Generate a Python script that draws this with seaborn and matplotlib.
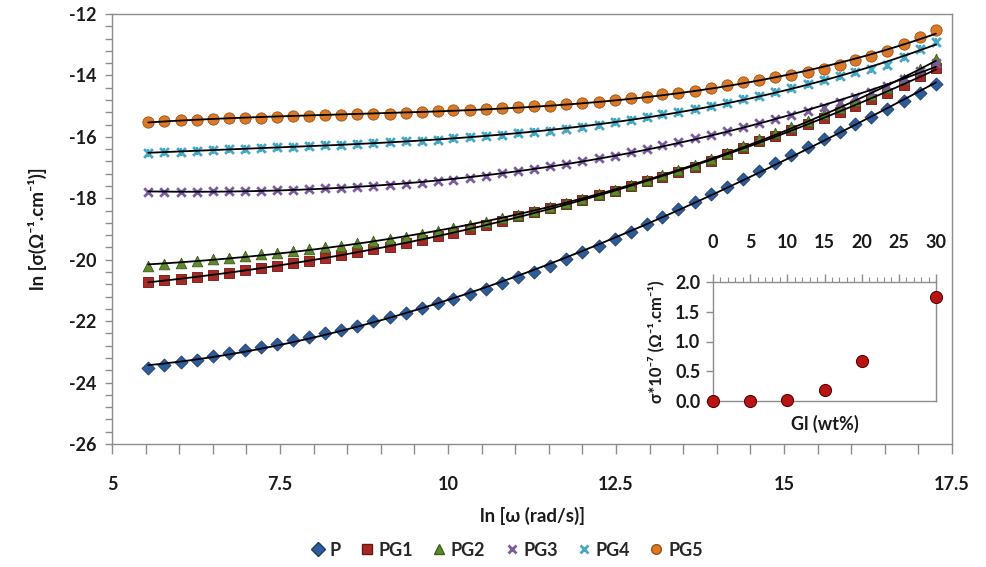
import numpy as np
import pandas as pd
import matplotlib
matplotlib.use("Agg")
import matplotlib.pyplot as plt
import seaborn as sns
from matplotlib.ticker import MultipleLocator, FixedLocator, FormatStrFormatter
from matplotlib.lines import Line2D

# ---------------- data ----------------
ln_omega = [5.54, 5.78, 6.02, 6.26, 6.50, 6.74, 6.98, 7.21, 7.45, 7.69,
            7.93, 8.17, 8.41, 8.65, 8.89, 9.13, 9.37, 9.61, 9.85, 10.08,
            10.32, 10.56, 10.80, 11.04, 11.28, 11.52, 11.76, 12.00, 12.24, 12.48,
            12.72, 12.96, 13.19, 13.43, 13.67, 13.91, 14.15, 14.39, 14.63, 14.87,
            15.11, 15.35, 15.59, 15.83, 16.06, 16.30, 16.54, 16.78, 17.02, 17.26]

P = [-23.53, -23.44, -23.34, -23.25, -23.15, -23.05, -22.95, -22.85, -22.75, -22.63,
     -22.52, -22.40, -22.28, -22.15, -22.01, -21.88, -21.74, -21.58, -21.42, -21.27,
     -21.11, -20.95, -20.76, -20.57, -20.39, -20.20, -19.98, -19.76, -19.55, -19.33,
     -19.09, -18.85, -18.60, -18.36, -18.12, -17.87, -17.62, -17.37, -17.12, -16.86,
     -16.60, -16.34, -16.08, -15.83, -15.59, -15.34, -15.10, -14.83, -14.56, -14.28]

PG1 = [-20.72, -20.67, -20.62, -20.56, -20.51, -20.43, -20.35, -20.28, -20.20, -20.11,
       -20.03, -19.94, -19.86, -19.76, -19.66, -19.57, -19.47, -19.35, -19.23, -19.12,
       -19.00, -18.88, -18.74, -18.59, -18.45, -18.31, -18.17, -18.04, -17.90, -17.77,
       -17.61, -17.45, -17.30, -17.14, -16.98, -16.77, -16.56, -16.36, -16.15, -15.96,
       -15.77, -15.57, -15.38, -15.18, -14.98, -14.78, -14.58, -14.31, -14.03, -13.75]

PG2 = [-20.20, -20.15, -20.10, -20.04, -19.99, -19.94, -19.88, -19.83, -19.77, -19.72,
       -19.66, -19.60, -19.54, -19.47, -19.40, -19.33, -19.26, -19.17, -19.08, -18.98,
       -18.88, -18.77, -18.65, -18.53, -18.40, -18.27, -18.14, -18.01, -17.87, -17.73,
       -17.57, -17.41, -17.25, -17.09, -16.92, -16.72, -16.51, -16.30, -16.08, -15.88,
       -15.68, -15.47, -15.26, -15.05, -14.84, -14.63, -14.42, -14.11, -13.79, -13.45]

PG3 = [-17.80, -17.79, -17.78, -17.78, -17.77, -17.76, -17.76, -17.75, -17.74, -17.72,
       -17.70, -17.68, -17.66, -17.63, -17.61, -17.58, -17.55, -17.50, -17.45, -17.39,
       -17.33, -17.26, -17.19, -17.11, -17.04, -16.96, -16.87, -16.79, -16.70, -16.61,
       -16.50, -16.39, -16.28, -16.17, -16.05, -15.93, -15.80, -15.68, -15.55, -15.42,
       -15.29, -15.16, -15.03, -14.86, -14.70, -14.53, -14.36, -14.11, -13.85, -13.60]

PG4 = [-16.52, -16.50, -16.48, -16.46, -16.44, -16.41, -16.39, -16.36, -16.34, -16.32,
       -16.30, -16.27, -16.25, -16.22, -16.20, -16.17, -16.15, -16.12, -16.09, -16.05,
       -16.02, -15.98, -15.94, -15.89, -15.85, -15.80, -15.73, -15.67, -15.60, -15.53,
       -15.44, -15.36, -15.27, -15.19, -15.10, -14.99, -14.89, -14.78, -14.68, -14.54,
       -14.41, -14.27, -14.14, -14.02, -13.90, -13.78, -13.66, -13.40, -13.15, -12.90]

PG5 = [-15.50, -15.48, -15.46, -15.44, -15.42, -15.40, -15.38, -15.37, -15.35, -15.33,
       -15.31, -15.30, -15.28, -15.27, -15.25, -15.24, -15.22, -15.20, -15.17, -15.14,
       -15.12, -15.09, -15.06, -15.04, -15.01, -14.99, -14.94, -14.90, -14.85, -14.81,
       -14.75, -14.69, -14.62, -14.56, -14.50, -14.41, -14.32, -14.23, -14.14, -14.05,
       -13.97, -13.88, -13.80, -13.65, -13.51, -13.36, -13.22, -12.99, -12.75, -12.52]

series_names = ["P", "PG1", "PG2", "PG3", "PG4", "PG5"]
series_values = [P, PG1, PG2, PG3, PG4, PG5]

# inset data
gl_wt = [0, 5, 10, 15, 20, 30]
sigma_e7 = [0.0, 0.005, 0.01, 0.185, 0.67, 1.74]

x_ticks_main = [5, 7.5, 10, 12.5, 15, 17.5]
x_ticklabels_main = ["5", "7.5", "10", "12.5", "15", "17.5"]
y_ticks_main = [-26, -24, -22, -20, -18, -16, -14, -12]

# ---------------- style ----------------
sns.set_theme(style="white")
plt.rcParams["font.family"] = ["Lato", "DejaVu Sans"]
plt.rcParams["font.weight"] = "bold"
plt.rcParams["axes.labelweight"] = "bold"
plt.rcParams["axes.unicode_minus"] = False

colors = {"P": "#2D5C9A", "PG1": "#A32A25", "PG2": "#5E8A2C",
          "PG3": "#7A5BA3", "PG4": "#45A8C4", "PG5": "#D97A2B"}
edges = {"P": "#1B3C68", "PG1": "#6E1512", "PG2": "#3C5C17",
         "PG3": "#7A5BA3", "PG4": "#45A8C4", "PG5": "#9C5010"}
markers = {"P": "D", "PG1": "s", "PG2": "^", "PG3": "x", "PG4": "x", "PG5": "o"}
sizes = {"P": 44, "PG1": 50, "PG2": 58, "PG3": 38, "PG4": 40, "PG5": 66}

fig = plt.figure(figsize=(9.86, 5.67), dpi=100)
ax = fig.add_axes([112 / 986, 1 - 444 / 567, (952 - 112) / 986, (444 - 14) / 567])

df = pd.DataFrame({
    "x": np.tile(ln_omega, len(series_names)),
    "y": np.concatenate(series_values),
    "series": np.repeat(series_names, len(ln_omega)),
})

for name in series_names:
    sub = df[df["series"] == name]
    if markers[name] == "x":
        sns.scatterplot(data=sub, x="x", y="y", ax=ax, marker="x", color=colors[name],
                        s=sizes[name], linewidth=2.0, legend=False, zorder=3)
        if name == "PG4":
            sns.scatterplot(data=sub, x="x", y="y", ax=ax, marker="|", color=colors[name],
                            s=sizes[name] * 0.8, linewidth=1.6, legend=False, zorder=3)
    else:
        sns.scatterplot(data=sub, x="x", y="y", ax=ax, marker=markers[name],
                        color=colors[name], edgecolor=edges[name], linewidth=0.6,
                        s=sizes[name], legend=False, zorder=3)

# black fitted curves
for name in series_names:
    sub = df[df["series"] == name]
    coef = np.polyfit(sub["x"], sub["y"], 3)
    xx = np.linspace(sub["x"].min(), sub["x"].max(), 200)
    sns.lineplot(x=xx, y=np.polyval(coef, xx), ax=ax, color="black", linewidth=1.3,
                 legend=False, zorder=4)

ax.set_xlim(5, 17.5)
ax.set_ylim(-26, -12)
ax.xaxis.set_major_locator(FixedLocator(x_ticks_main))
ax.set_xticklabels(x_ticklabels_main)
ax.xaxis.set_minor_locator(MultipleLocator(0.5))
ax.yaxis.set_major_locator(FixedLocator(y_ticks_main))
ax.yaxis.set_minor_locator(MultipleLocator(0.4))
for sp in ax.spines.values():
    sp.set_color("#8C8C8C")
    sp.set_linewidth(1.0)
ax.tick_params(axis="x", which="both", direction="out", length=7, width=1.0,
               color="#8C8C8C", bottom=True, labelsize=13, pad=16, labelcolor="#1a1a1a")
ax.tick_params(axis="y", which="both", direction="out", length=5, width=1.0,
               color="#8C8C8C", left=True, labelsize=13, pad=6, labelcolor="#1a1a1a")
for lab in ax.get_xticklabels() + ax.get_yticklabels():
    lab.set_fontweight("bold")
ax.set_xlabel("ln [ω (rad/s)]", fontsize=13.5, fontweight="bold", labelpad=10, color="#1a1a1a")
ax.set_ylabel("ln [σ(Ω⁻¹.cm⁻¹)]", fontsize=13.5, fontweight="bold", labelpad=16,
              color="#1a1a1a")

# legend
handles = []
for name in series_names:
    if markers[name] == "x":
        h = Line2D([], [], linestyle="none", marker="x", color=colors[name],
                   markersize=6, markeredgewidth=2)
    else:
        h = Line2D([], [], linestyle="none", marker=markers[name], color=colors[name],
                   markeredgecolor=edges[name], markersize=7)
    handles.append(h)
fig.legend(handles, series_names, loc="center", bbox_to_anchor=(507 / 986, 1 - 550 / 567),
           ncol=6, frameon=False, handlelength=0.7, handletextpad=0.3, columnspacing=1.1,
           prop={"size": 13, "weight": "bold"})

# ---------------- inset ----------------
axi = fig.add_axes([713 / 986, 1 - 401 / 567, (936 - 713) / 986, (401 - 282) / 567])
sns.scatterplot(x=gl_wt, y=sigma_e7, ax=axi, color="#B81414", edgecolor="#5A0000",
                linewidth=0.8, s=75, legend=False, zorder=5, clip_on=False)
axi.set_xlim(0, 30)
axi.set_ylim(0, 2.0)
axi.set_facecolor("white")
axi.xaxis.tick_top()
axi.xaxis.set_major_locator(MultipleLocator(5))
axi.xaxis.set_minor_locator(MultipleLocator(1))
axi.yaxis.set_major_locator(MultipleLocator(0.5))
axi.yaxis.set_major_formatter(FormatStrFormatter("%.1f"))
for sp in axi.spines.values():
    sp.set_color("#8C8C8C")
    sp.set_linewidth(1.0)
axi.tick_params(axis="x", which="major", direction="out", length=6, width=1.0,
                color="#8C8C8C", top=True, bottom=False, labeltop=True, labelbottom=False,
                labelsize=13, pad=16, labelcolor="#1a1a1a")
axi.tick_params(axis="x", which="minor", direction="out", length=3.5, width=0.8,
                color="#8C8C8C", top=True, bottom=False)
axi.tick_params(axis="y", which="major", direction="out", length=5, width=1.0,
                color="#8C8C8C", left=True, labelsize=13, pad=4, labelcolor="#1a1a1a")
for lab in axi.get_xticklabels() + axi.get_yticklabels():
    lab.set_fontweight("bold")
axi.xaxis.set_label_position("bottom")
axi.set_xlabel("Gl (wt%)", fontsize=13, fontweight="bold", labelpad=10, color="#1a1a1a")
axi.set_ylabel("σ*10⁻⁷ (Ω⁻¹.cm⁻¹)", fontsize=12, fontweight="bold", labelpad=8,
               color="#1a1a1a")

fig.savefig("out.png", dpi=100, facecolor="white")
